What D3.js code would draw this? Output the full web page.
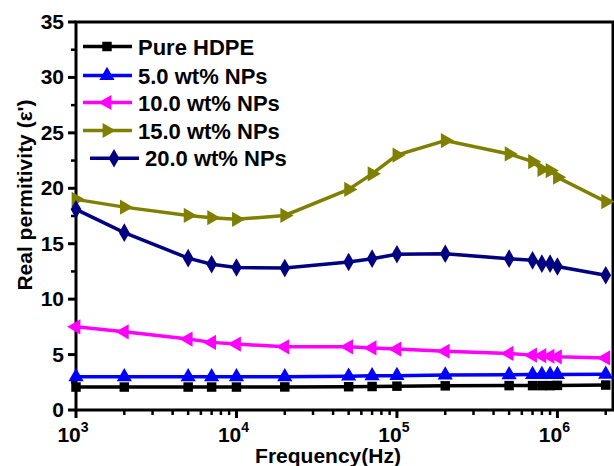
<html>
<head>
  <script src="https://d3js.org/d3.v7.min.js"></script>
  <style>
    body { margin: 0; background: #fff; }
    text { font-family: "Liberation Sans", Arial, sans-serif; font-weight: bold; }
  </style>
</head>
<body>
  <svg id="chart" width="614" height="466"></svg>
  <script>
    const freqs = [1e3, 2e3, 5e3, 7e3, 1e4, 2e4, 5e4, 7e4, 1e5, 2e5, 5e5, 7e5, 8e5, 9e5, 1e6, 2e6];
    const pureHDPE = [2.07, 2.07, 2.07, 2.07, 2.07, 2.08, 2.1, 2.12, 2.15, 2.18, 2.2, 2.2, 2.2, 2.2, 2.22, 2.25];
    const np5 = [3.0, 3.0, 3.0, 3.0, 3.0, 3.0, 3.05, 3.08, 3.1, 3.15, 3.18, 3.2, 3.2, 3.2, 3.2, 3.22];
    const np10 = [7.5, 7.05, 6.4, 6.1, 5.95, 5.7, 5.7, 5.6, 5.5, 5.3, 5.1, 4.95, 4.9, 4.85, 4.8, 4.7];
    const np15 = [19.0, 18.3, 17.55, 17.35, 17.2, 17.55, 19.9, 21.3, 23.0, 24.3, 23.1, 22.4, 21.7, 21.6, 21.0, 18.8];
    const np20 = [18.1, 16.0, 13.7, 13.15, 12.85, 12.8, 13.35, 13.65, 14.05, 14.1, 13.65, 13.5, 13.2, 13.2, 12.95, 12.15];
    const seriesNames = ["Pure HDPE", "5.0 wt% NPs", "10.0 wt% NPs", "15.0 wt% NPs", "20.0 wt% NPs"];
    const yTicks = [0, 5, 10, 15, 20, 25, 30, 35];
    const xTicks = [1e3, 1e4, 1e5, 1e6];

    const series = [
      { name: seriesNames[0], values: pureHDPE, color: "#000000", shape: d3.symbolSquare, rot: 0, size: 90 },
      { name: seriesNames[1], values: np5, color: "#0000ff", shape: d3.symbolTriangle, rot: 0, size: 100 },
      { name: seriesNames[2], values: np10, color: "#ff00ff", shape: d3.symbolTriangle, rot: -90, size: 100 },
      { name: seriesNames[3], values: np15, color: "#808000", shape: d3.symbolTriangle, rot: 90, size: 100 },
      { name: seriesNames[4], values: np20, color: "#000080", shape: d3.symbolDiamond, rot: 0, size: 100 }
    ];

    const svg = d3.select("#chart");
    const pLeft = 76, pRight = 613, pTop = 22, pBottom = 410;

    const x = d3.scaleLog().domain([1e3, 2.22e6]).range([pLeft, pRight]);
    const y = d3.scaleLinear().domain([0, 35]).range([pBottom, pTop]);

    // frame
    svg.append("rect")
      .attr("x", pLeft).attr("y", pTop)
      .attr("width", pRight - pLeft).attr("height", pBottom - pTop)
      .attr("fill", "none").attr("stroke", "#000").attr("stroke-width", 3);

    // x axis ticks (log minor ticks 2..9)
    const minorX = [];
    for (let e = 3; e <= 6; e++) for (let m = 2; m <= 9; m++) {
      const v = m * Math.pow(10, e);
      if (v <= 2.22e6) minorX.push(v);
    }
    const ax = svg.append("g");
    ax.selectAll("line.maj").data(xTicks).join("line").attr("class", "maj")
      .attr("x1", d => x(d)).attr("x2", d => x(d))
      .attr("y1", pBottom).attr("y2", pBottom + 8)
      .attr("stroke", "#000").attr("stroke-width", 3);
    ax.selectAll("line.min").data(minorX).join("line").attr("class", "min")
      .attr("x1", d => x(d)).attr("x2", d => x(d))
      .attr("y1", pBottom).attr("y2", pBottom + 5)
      .attr("stroke", "#000").attr("stroke-width", 2.5);
    const xl = ax.selectAll("text").data(xTicks).join("text")
      .attr("x", d => x(d) - 3).attr("y", pBottom + 32)
      .attr("text-anchor", "middle").attr("font-size", 21);
    xl.append("tspan").text("10");
    xl.append("tspan").attr("dy", -10).attr("font-size", 14).text(d => Math.round(Math.log10(d)));

    // y axis ticks
    const ay = svg.append("g");
    const minorY = d3.range(2.5, 35, 5);
    ay.selectAll("line.maj").data(yTicks).join("line").attr("class", "maj")
      .attr("x1", pLeft - 8).attr("x2", pLeft)
      .attr("y1", d => y(d)).attr("y2", d => y(d))
      .attr("stroke", "#000").attr("stroke-width", 3);
    ay.selectAll("line.min").data(minorY).join("line").attr("class", "min")
      .attr("x1", pLeft - 5).attr("x2", pLeft)
      .attr("y1", d => y(d)).attr("y2", d => y(d))
      .attr("stroke", "#000").attr("stroke-width", 2.5);
    ay.selectAll("text").data(yTicks).join("text")
      .attr("x", pLeft - 12).attr("y", d => y(d) + 7)
      .attr("text-anchor", "end").attr("font-size", 21)
      .text(d => d);

    // axis titles
    svg.append("text")
      .attr("x", 328).attr("y", 463)
      .attr("text-anchor", "middle").attr("font-size", 21)
      .text("Frequency(Hz)");
    svg.append("text")
      .attr("transform", "translate(32,195) rotate(-90)")
      .attr("text-anchor", "middle").attr("font-size", 21)
      .text("Real permitivity (ε')");

    // series
    const line = d3.line().x((d, i) => x(freqs[i])).y(d => y(d));
    const g = svg.append("g");
    series.forEach(s => {
      g.append("path")
        .attr("d", line(s.values))
        .attr("fill", "none").attr("stroke", s.color).attr("stroke-width", 3.5);
      g.selectAll(null).data(s.values).join("path")
        .attr("d", d3.symbol().type(s.shape).size(s.size))
        .attr("transform", (d, i) => `translate(${x(freqs[i])},${y(d)}) rotate(${s.rot})`)
        .attr("fill", s.color);
    });

    // legend
    const legY = [46.5, 75.5, 102.5, 130.5, 158.3];
    const legX = [83, 83, 83, 83, 90];
    const leg = svg.append("g");
    series.forEach((s, i) => {
      leg.append("line")
        .attr("x1", legX[i]).attr("x2", legX[i] + 49)
        .attr("y1", legY[i]).attr("y2", legY[i])
        .attr("stroke", s.color).attr("stroke-width", 3.5);
      leg.append("path")
        .attr("d", d3.symbol().type(s.shape).size(s.size))
        .attr("transform", `translate(${legX[i] + 24},${legY[i]}) rotate(${s.rot})`)
        .attr("fill", s.color);
      leg.append("text")
        .attr("x", legX[i] + 55).attr("y", legY[i] + 8)
        .attr("font-size", 22)
        .text(s.name);
    });
  </script>
</body>
</html>
